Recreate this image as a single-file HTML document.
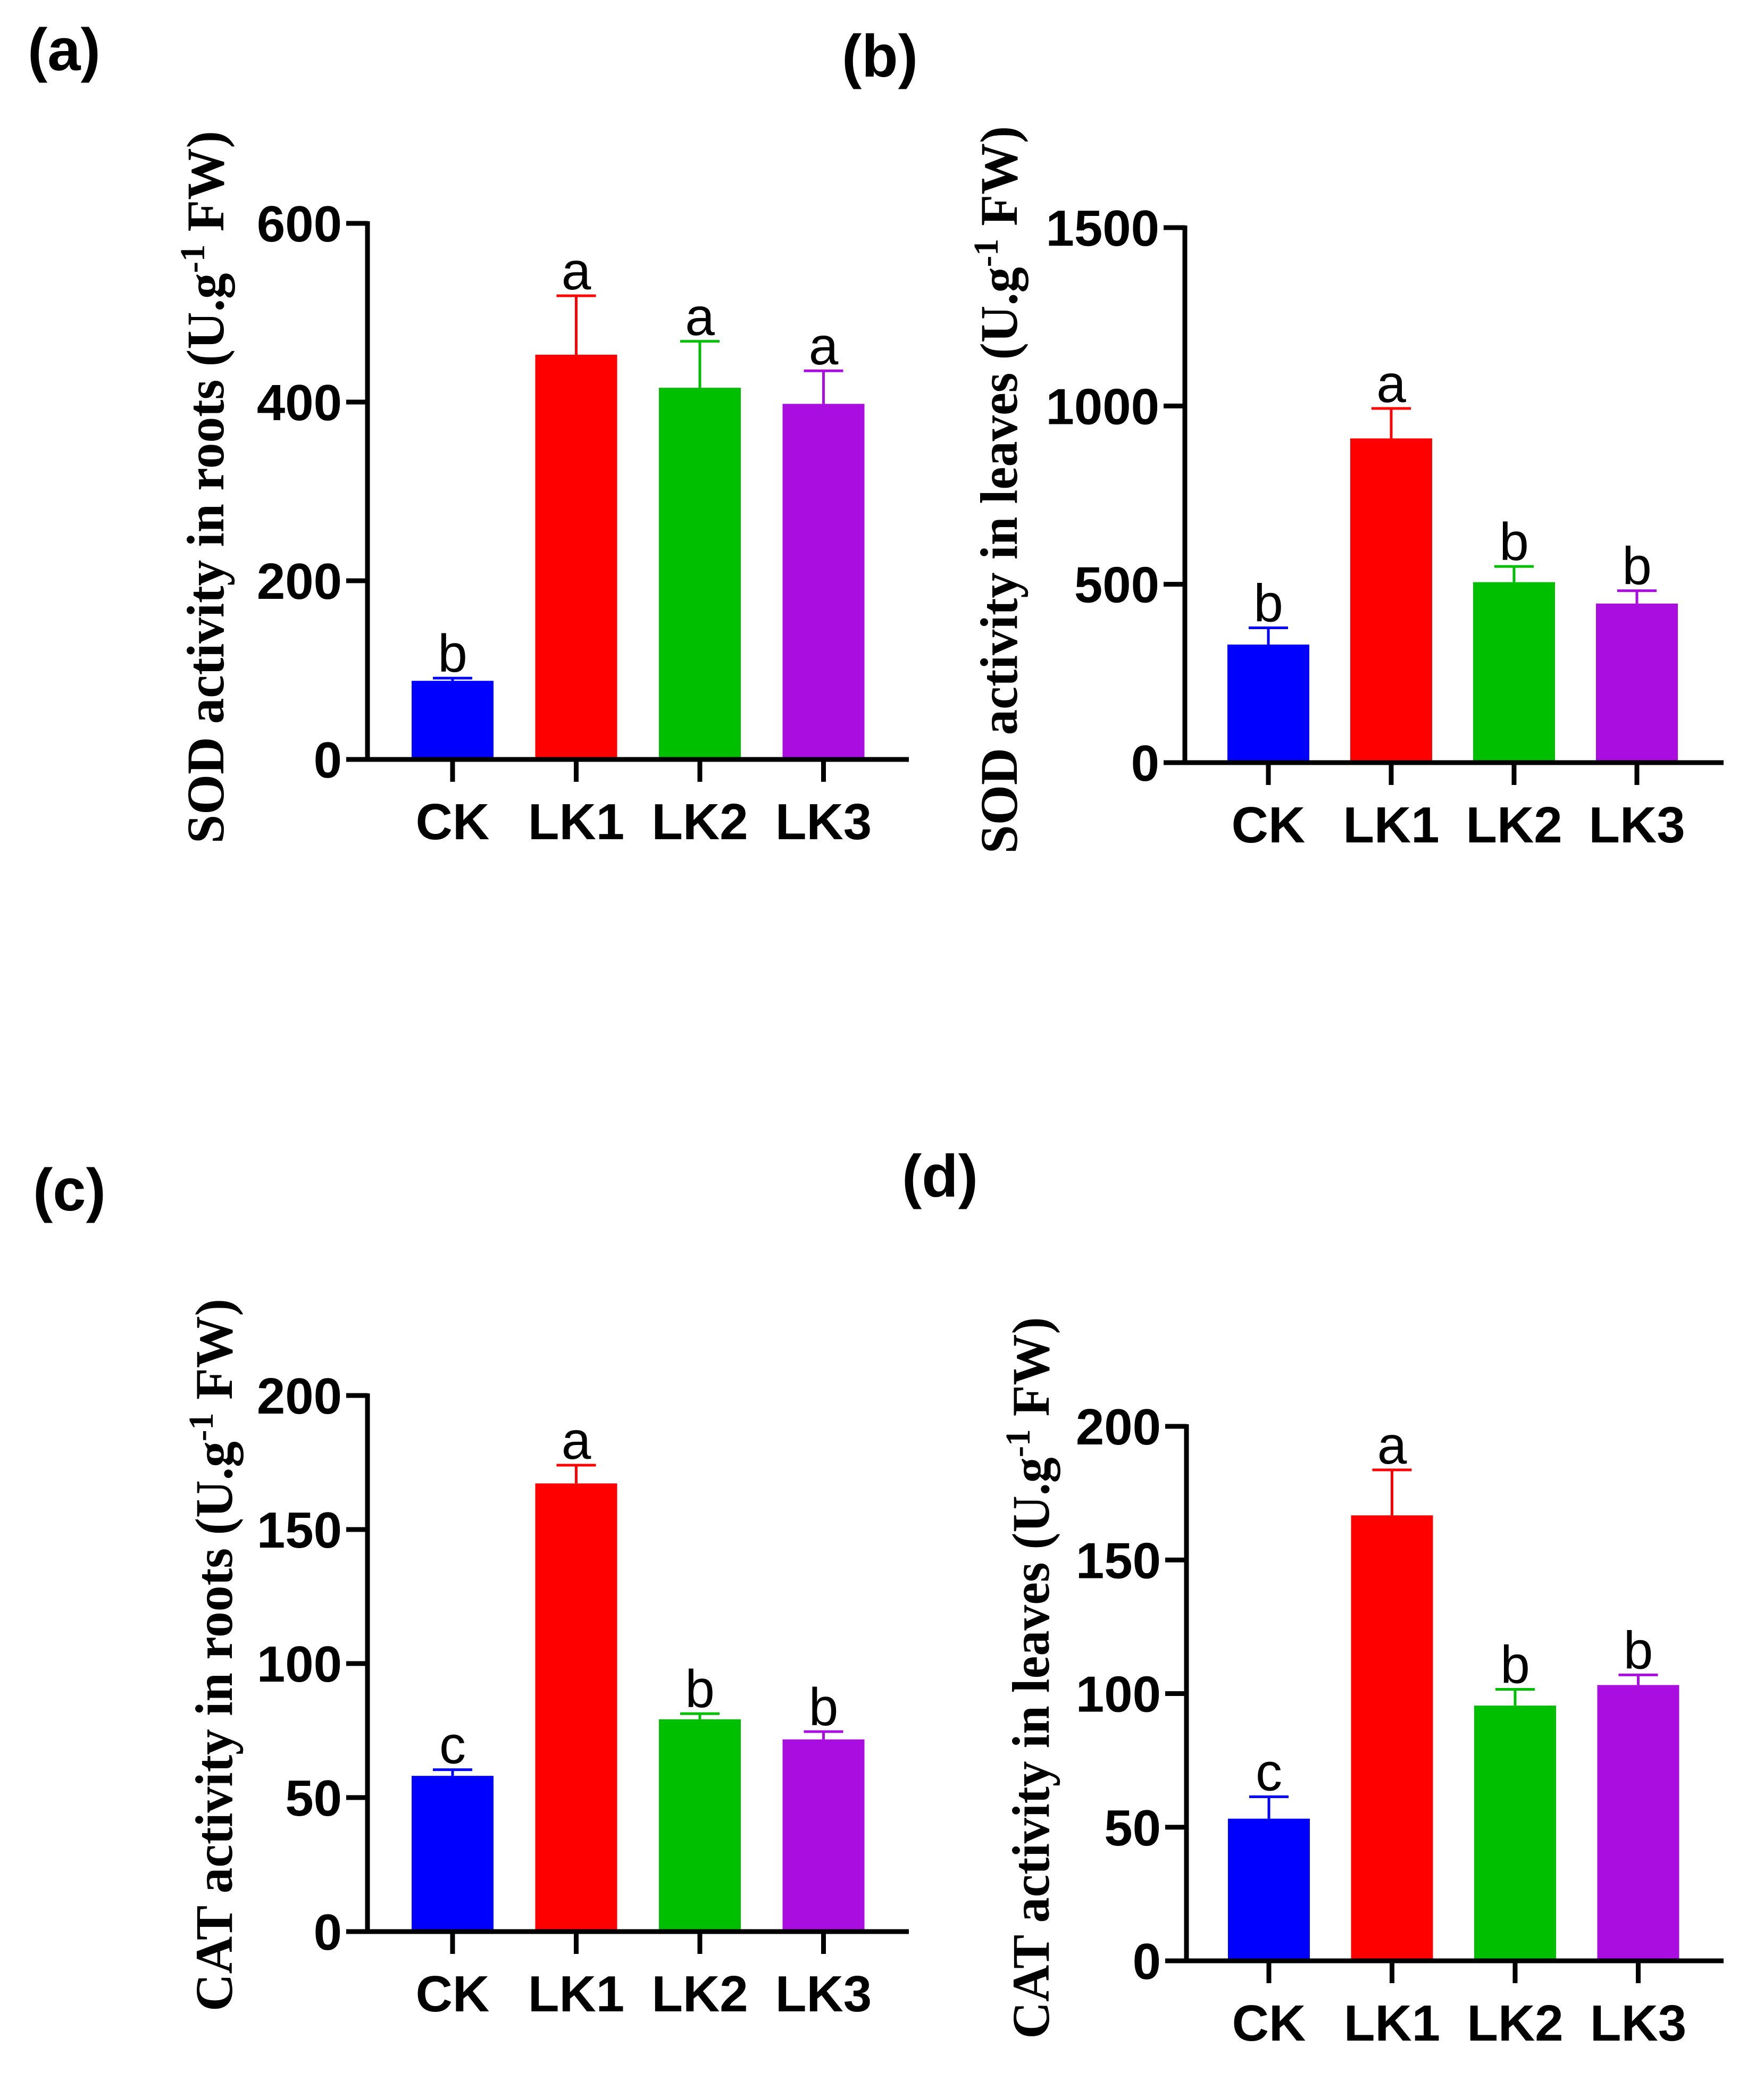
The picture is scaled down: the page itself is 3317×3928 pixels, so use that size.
<!DOCTYPE html>
<html><head><meta charset="utf-8"><style>
html,body{margin:0;padding:0;background:#fff}
svg{display:block}
.tick{font-family:"Liberation Sans",Arial,sans-serif;font-weight:bold;font-size:96px}
.cat{font-family:"Liberation Sans",Arial,sans-serif;font-weight:bold;font-size:96px}
.sig{font-family:"Liberation Sans",Arial,sans-serif;font-size:100px}
.ytitle{font-family:"Liberation Serif","Times New Roman",serif;font-weight:bold;font-size:100px}
.panel{font-family:"Liberation Sans",Arial,sans-serif;font-weight:bold;font-size:112px}
</style></head><body>
<svg id="fig" width="3317" height="3928" viewBox="0 0 3317 3928" xmlns="http://www.w3.org/2000/svg"></svg>
<script>
const categories = ["CK","LK1","LK2","LK3"];
const colors = ["#0000ff","#ff0000","#00bf00","#a90de0"];
const sodRootVals = [88,453,416,398];
const sodRootErr = [91,519,468,435];
const sodRootSig = ["b","a","a","a"];
const sodRootTicks = [0,200,400,600];
const sodLeafVals = [331,909,506,446];
const sodLeafErr = [378,993,550,482];
const sodLeafSig = ["b","a","b","b"];
const sodLeafTicks = [0,500,1000,1500];
const catRootVals = [58.1,167.2,79.2,71.7];
const catRootErr = [60.4,174,81.3,74.6];
const catRootSig = ["c","a","b","b"];
const catRootTicks = [0,50,100,150,200];
const catLeafVals = [53.2,166.7,95.5,103.2];
const catLeafErr = [61.4,183.7,101.6,107];
const catLeafSig = ["c","a","b","b"];
const catLeafTicks = [0,50,100,150,200];

const NS="http://www.w3.org/2000/svg";
const svg=document.getElementById('fig');
function mk(tag,attrs,parent){const e=document.createElementNS(NS,tag);for(const k in attrs)e.setAttribute(k,attrs[k]);(parent||svg).appendChild(e);return e;}

function panel(cfg){
  const g=mk('g',{});
  
  
  const ymax=cfg.ticks[cfg.ticks.length-1];
  const Y=v=>cfg.y0-(v/ymax)*(cfg.y0-cfg.yTop);
  const X=i=>cfg.x0+cfg.first+i*cfg.step;
  const pl=mk('text',{x:cfg.lx,y:cfg.ly,class:'panel'},g);pl.textContent=cfg.label;
  
  
  categories.forEach((c,i)=>{
    const v=cfg.vals[i],e=cfg.err[i],cx=X(i);
    const r=mk('rect',{x:cx-77,y:Y(v),width:154,height:cfg.y0-Y(v),fill:colors[i]},g);
    
    
    const eb=mk('path',{d:`M${cx},${Y(v)} V${Y(e)} M${cx-37},${Y(e)} H${cx+37}`,stroke:colors[i],'stroke-width':5,fill:'none'},g);
    
    
    const s=mk('text',{x:cx,y:Y(e)-12,'text-anchor':'middle',class:'sig'},g);s.textContent=cfg.sig[i];
    
    
    const t=mk('line',{x1:cx,x2:cx,y1:cfg.y0,y2:cfg.y0+42,stroke:'#000','stroke-width':9},g);
    
    
    const l=mk('text',{x:cx,y:cfg.y0+150,'text-anchor':'middle',class:'cat'},g);l.textContent=c;
    
    
  });
  const ya=mk('line',{x1:cfg.x0,x2:cfg.x0,y1:cfg.yTop-4,y2:cfg.y0+4,stroke:'#000','stroke-width':9},g);
  
  
  const xa=mk('line',{x1:cfg.x0-40,x2:cfg.xEnd,y1:cfg.y0,y2:cfg.y0,stroke:'#000','stroke-width':9},g);
  
  
  cfg.ticks.forEach(tv=>{
    const t=mk('line',{x1:cfg.x0-40,x2:cfg.x0,y1:Y(tv),y2:Y(tv),stroke:'#000','stroke-width':9},g);
    
    
    const l=mk('text',{x:cfg.x0-48,y:Y(tv)+34,'text-anchor':'end',class:'tick'},g);l.textContent=tv;
    
    
  });
  const yt=mk('text',{x:0,y:0,'text-anchor':'middle',class:'ytitle',transform:`translate(${cfg.tx},${cfg.tyc}) rotate(-90)`,textLength:cfg.tlen,lengthAdjust:'spacingAndGlyphs'},g);
  
  
  const a=mk('tspan',{},yt);a.textContent=cfg.title+' (U.g';
  const b=mk('tspan',{dy:-36,'font-size':66},yt);b.textContent='-1';
  const c=mk('tspan',{dy:36},yt);c.textContent=' FW)';
}

panel({name:'panel-a-sod-roots',label:'(a)',lx:52,ly:132,x0:691,xEnd:1709,y0:1428,yTop:420,first:160,step:232.5,
  vals:sodRootVals,err:sodRootErr,sig:sodRootSig,ticks:sodRootTicks,title:'SOD activity in roots',tx:420,tyc:916,tlen:1340});
panel({name:'panel-b-sod-leaves',label:'(b)',lx:1583,ly:144,x0:2228,xEnd:3241,y0:1434,yTop:428,first:157,step:231,
  vals:sodLeafVals,err:sodLeafErr,sig:sodLeafSig,ticks:sodLeafTicks,title:'SOD activity in leaves',tx:1912,tyc:921,tlen:1368});
panel({name:'panel-c-cat-roots',label:'(c)',lx:62,ly:2276,x0:691,xEnd:1709,y0:3632,yTop:2624,first:160,step:232.5,
  vals:catRootVals,err:catRootErr,sig:catRootSig,ticks:catRootTicks,title:'CAT activity in roots',tx:436,tyc:3112,tlen:1340});
panel({name:'panel-d-cat-leaves',label:'(d)',lx:1696,ly:2250,x0:2231,xEnd:3241,y0:3687,yTop:2682,first:155,step:231.5,
  vals:catLeafVals,err:catLeafErr,sig:catLeafSig,ticks:catLeafTicks,title:'CAT activity in leaves',tx:1972,tyc:3155,tlen:1357});
</script>
</body></html>
